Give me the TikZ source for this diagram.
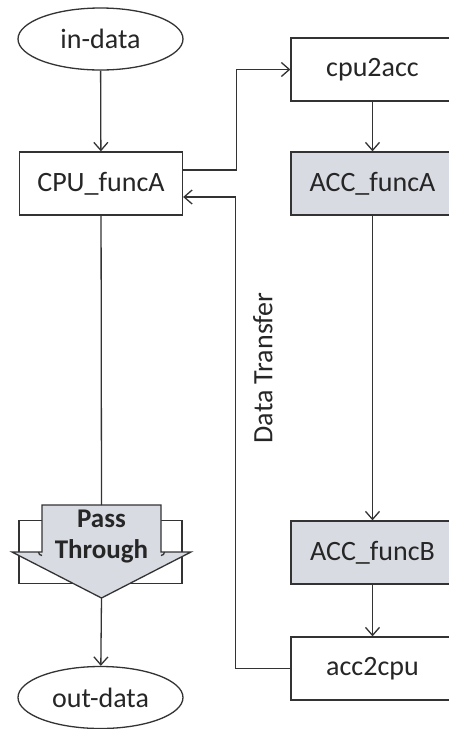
\documentclass[tikz,border=0pt]{standalone}
\usepackage{fontspec}
\setmainfont{Carlito}
\usetikzlibrary{arrows.meta,shapes.geometric}
\definecolor{ln}{HTML}{333333}
\definecolor{gfill}{HTML}{D8DBE2}
\tikzset{
  base/.style={draw=ln, line width=1.3pt, inner sep=0pt, font=\fontsize{28}{30}\selectfont, text=black!85},
  ell/.style={base, ellipse, fill=white, minimum width=165pt, minimum height=62pt},
  box/.style={base, rectangle, fill=white, minimum width=163pt, minimum height=63pt},
  gbox/.style={box, fill=gfill},
  conn/.style={draw=ln, line width=1.3pt, -{Straight Barb[length=8pt,width=14pt,line width=1.3pt]}},
  plain/.style={draw=ln, line width=1.3pt},
  lbl/.style={font=\fontsize{28}{30}\selectfont, text=black!85, inner sep=0pt}
}
\begin{document}
\begin{tikzpicture}[x=1pt,y=-1pt]
\useasboundingbox (0,0) rectangle (449,729);
\clip (0,0) rectangle (449,729);
\fill[white] (0,0) rectangle (449,729);

\node[ell] (in) at (100.5,39) {in-data};
\node[box] (cpu) at (101,183.5) {CPU\_funcA};
\node[box] (c2a) at (372.5,69.5) {cpu2acc};
\node[gbox] (accA) at (372.5,183.5) {ACC\_funcA};
\node[gbox] (accB) at (372.5,552.5) {ACC\_funcB};
\node[box] (a2c) at (372.5,668.5) {acc2cpu};
\node[ell] (out) at (100.5,697.5) {out-data};
\node[lbl, rotate=90] (dt) at (263,368) {Data Transfer};

% Pass Through
\node[box] (pbox) at (100.5,552) {};
\coordinate (ptop) at (101.5,505);
\coordinate (ptip) at (101.5,598);
\filldraw[fill=gfill, draw=ln, line width=1.3pt, line join=miter]
  (42,505) -- (161,505) -- (161,552) -- (191,552) -- (ptip) -- (12,552) -- (42,552) -- cycle;
\draw[plain] (38.5,552) arc[start angle=180,end angle=90,radius=3.5];
\draw[plain] (164.5,552) arc[start angle=0,end angle=90,radius=3.5];
\node[lbl, font=\fontsize{27}{31}\selectfont\bfseries, align=center] (pass) at (101.5,537) {Pass\\Through};

% connectors
\draw[conn] (in) -- (cpu);
\draw[conn] ([yshift=13.5pt]cpu.east) -- ++(53,0) |- (c2a.west);
\draw[conn] (a2c.west) -- ++(-55,0) |- ([yshift=-13.5pt]cpu.east);
\draw[conn] (c2a) -- (accA);
\draw[conn] (accA) -- (accB);
\draw[conn] (accB) -- (a2c);
\draw[plain] (cpu) -- (ptop);
\draw[conn] (ptip) -- (out);
\end{tikzpicture}
\end{document}
